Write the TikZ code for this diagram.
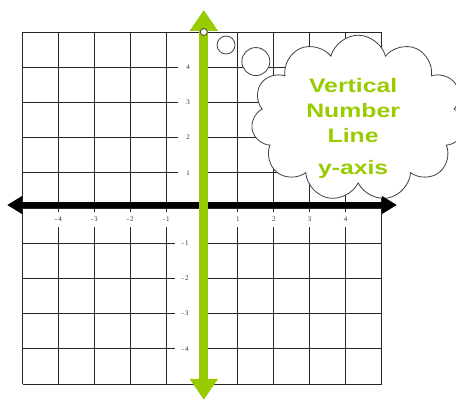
\documentclass[tikz,border=0pt]{standalone}
\usepackage{fontspec}
\setmainfont{Liberation Serif}
\newfontfamily\bubblefont[FakeStretch=1.27]{Liberation Sans}
\usepackage{tikz}
\usetikzlibrary{arrows.meta,positioning,shapes.symbols}
\definecolor{ylime}{RGB}{153,204,0}

\begin{document}
\begin{tikzpicture}[x=35.9pt, y=35.2pt,
    gridline/.style={black!85, line width=0.9pt},
    tick/.style={font=\fontsize{7}{8}\selectfont, text=black!80, inner sep=0pt},
    bubble/.style={circle, draw=black!75, fill=white, line width=0.8pt, inner sep=0pt},
    xaxisline/.style={black, line width=6pt, {Triangle[length=15pt, width=17pt]}-{Triangle[length=15pt, width=17pt]}},
    yaxisline/.style={ylime, line width=9pt, {Triangle[length=21pt, width=27pt]}-{Triangle[length=21pt, width=27pt]}},
    thought/.style={cloud, cloud puffs=11, draw=black!75, fill=white, line width=0.8pt, minimum width=214pt, minimum height=166pt},
    cloudtext/.style={text=ylime, align=center, font=\bubblefont\bfseries\fontsize{19.5}{25.3}\selectfont}]
    \useasboundingbox (-5.627,-5.455) rectangle (7.075,5.909);
    \fill[white] (-5.627,-5.455) rectangle (7.075,5.909);
    % grid
    \draw[gridline, step=1] (-5,-5) grid (5,5);
    % white strips behind the tick labels
    \fill[white] (-4.85,-0.12) rectangle (4.82,-0.54);
    \fill[white] (-0.75,-0.54) rectangle (-0.08,-4.6);
    \fill[white] (-0.67,0.23) rectangle (-0.08,4.77);
    % tick labels
    \foreach \i in {1,2,3,4} {
        \node[tick] (yp\i) at (-0.39,\i) {\i};
        \node[tick] (yn\i) at (-0.47,-\i) {-\kern1pt\i};
        \node[tick] (xp\i) at (\i,-0.31) {\i};
        \node[tick] (xn\i) at (-\i,-0.31) {-\kern1pt\i};
    }
    % thought bubble
    \node[bubble, minimum size=18pt] (b1) at (0.67,4.63) {};
    \node[bubble, minimum size=28pt] (b2) at (1.5,4.16) {};
    \node[thought] (cloud) at (4.35,2.55) {};
    \node[cloudtext] (title) at (4.21,2.27) {Vertical\\Number\\Line\\[6pt]y-axis};
    % axes
    \coordinate (xL) at (-5.43,0.085);
    \coordinate (xR) at (5.43,0.085);
    \coordinate (yB) at (0.05,-5.45);
    \coordinate (yT) at (0.05,5.625);
    \draw[xaxisline] (xL) -- (xR);
    \draw[yaxisline] (yB) -- (yT);
    \node[bubble, minimum size=7pt] (top) at (0.05,5) {};
\end{tikzpicture}
\end{document}
